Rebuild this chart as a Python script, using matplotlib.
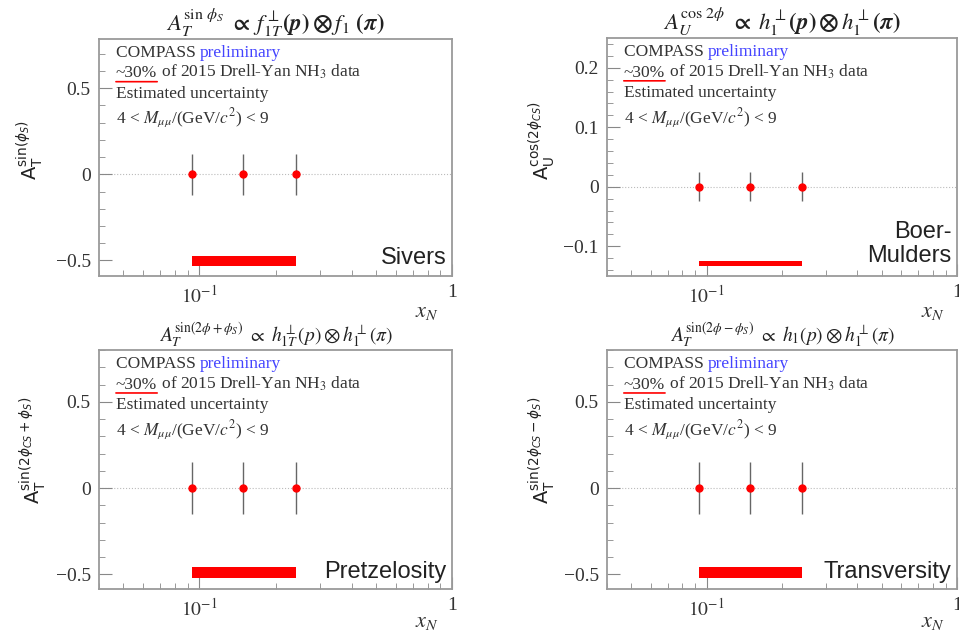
import numpy as np
import matplotlib
matplotlib.use("Agg")
import matplotlib.pyplot as plt
from matplotlib.ticker import FixedLocator, MultipleLocator, LogLocator, NullFormatter, FuncFormatter

plt.rcParams["font.family"] = ["Liberation Serif", "DejaVu Serif"]
plt.rcParams["mathtext.fontset"] = "stix"

# data
x_bins = [0.093, 0.149, 0.241]
amp_sivers = [0.0, 0.0, 0.0]
amp_boer = [0.0, 0.0, 0.0]
amp_pretz = [0.0, 0.0, 0.0]
amp_transv = [0.0, 0.0, 0.0]
err_sivers = [0.12, 0.12, 0.12]
err_boer = [0.024, 0.024, 0.024]
err_pretz = [0.15, 0.15, 0.15]
err_transv = [0.15, 0.15, 0.15]
# systematic band (lower, upper)
band_sivers = (-0.53, -0.473)
band_boer = (-0.134, -0.124)
band_pretz = (-0.522, -0.455)
band_transv = (-0.522, -0.457)

titles = [
    r"$\boldsymbol{A_T^{\sin\,\phi_S}\ \propto\ f_{1T}^{\perp}(p)\otimes f_1\ (\pi)}$",
    r"$\boldsymbol{A_U^{\cos\,2\phi}\ \propto\ h_1^{\perp}(p)\otimes h_1^{\perp}(\pi)}$",
    r"$A_T^{\sin(2\phi+\phi_S)}\ \propto\ h_{1T}^{\perp}(p)\otimes h_1^{\perp}(\pi)$",
    r"$A_T^{\sin(2\phi-\phi_S)}\ \propto\ h_1(p)\otimes h_1^{\perp}(\pi)$",
]
ylabels = [
    r"$\mathrm{A}_\mathrm{T}^{\mathrm{sin}(\phi_S)}$",
    r"$\mathrm{A}_\mathrm{U}^{\mathrm{cos}(2\phi_{CS})}$",
    r"$\mathrm{A}_\mathrm{T}^{\mathrm{sin}(2\phi_{CS}+\phi_S)}$",
    r"$\mathrm{A}_\mathrm{T}^{\mathrm{sin}(2\phi_{CS}-\phi_S)}$",
]
names = ["Sivers", "Boer-\nMulders", "Pretzelosity", "Transversity"]
amps = [amp_sivers, amp_boer, amp_pretz, amp_transv]
errs = [err_sivers, err_boer, err_pretz, err_transv]
bands = [band_sivers, band_boer, band_pretz, band_transv]
ylims = [(-0.59, 0.785), (-0.15, 0.25), (-0.585, 0.8), (-0.585, 0.8)]
ymajor = [0.5, 0.1, 0.5, 0.5]
yminor = [0.1, 0.02, 0.1, 0.1]
title_size = [16.5, 16.5, 14, 14]
name_y = [0.076, 0.134, 0.071, 0.071]
ylab_pos = [(-0.153, 0.53), (-0.143, 0.57), (-0.145, 0.58), (-0.143, 0.58)]
xlab_y = [-0.152, -0.152, -0.142, -0.142]

W, H = 959, 636
boxes = [(99, 39, 452, 276), (607, 38, 957, 276), (99, 350, 452, 589), (607, 350, 957, 589)]


def fmt_y(v, pos):
    if abs(v) < 1e-9:
        return "0"
    return ("%g" % v).replace("-", "\u2212")


fig = plt.figure(figsize=(W / 100, H / 100), dpi=100)
fig.patch.set_facecolor("white")

for i, (l, t, r, b) in enumerate(boxes):
    ax = fig.add_axes([l / W, (H - b) / H, (r - l) / W, (b - t) / H])
    ax.set_xscale("log")
    ax.set_xlim(0.04, 1.0)
    ax.set_ylim(*ylims[i])

    ax.axhline(0, color="#bbbbbb", lw=0.8, ls=":", zorder=1)
    ax.fill_between([x_bins[0], x_bins[-1]], bands[i][0], bands[i][1],
                    color="red", lw=0, zorder=2)
    ax.errorbar(x_bins, amps[i], yerr=errs[i], fmt="o", color="red",
                ms=5, ecolor="#666666", elinewidth=1, capsize=0, zorder=3)

    for s in ax.spines.values():
        s.set_color("#9a9a9a")
        s.set_linewidth(1.3)
    ax.xaxis.set_major_locator(FixedLocator([0.1, 1.0]))
    ax.set_xticklabels([r"$10^{-1}$", "1"])
    ax.xaxis.set_minor_locator(LogLocator(base=10, subs=np.arange(2, 10), numticks=10))
    ax.xaxis.set_minor_formatter(NullFormatter())
    ax.yaxis.set_major_locator(MultipleLocator(ymajor[i]))
    ax.yaxis.set_minor_locator(MultipleLocator(yminor[i]))
    ax.yaxis.set_major_formatter(FuncFormatter(fmt_y))
    ax.tick_params(which="both", direction="in", color="#888888", labelcolor="#333333",
                   labelsize=14, top=False, right=False)
    ax.tick_params(which="major", length=9, pad=6)
    ax.tick_params(which="minor", length=4)

    ax.set_title(titles[i], fontsize=title_size[i], pad=5 if i < 2 else 3, color="#222222")
    xl = ax.set_xlabel(r"$x_N$", fontsize=16, color="#333333")
    xl.set_verticalalignment("center")
    ax.xaxis.set_label_coords(0.93, xlab_y[i])
    yl = ax.set_ylabel(ylabels[i], fontsize=14, color="#222222")
    yl.set_math_fontfamily("dejavusans")
    ax.yaxis.set_label_coords(*ylab_pos[i])

    # info text
    tx = 0.048
    fs = 12.5
    t1 = ax.text(tx, 0.943, "COMPASS ", transform=ax.transAxes, fontsize=fs,
                 color="#333333", va="center")
    ax.annotate("preliminary", xy=(1, 0), xycoords=t1, va="bottom", fontsize=fs,
                color="#4444ff")
    t2 = ax.text(tx, 0.855, "~30%", transform=ax.transAxes, fontsize=fs,
                 color="#333333", va="center")
    ax.annotate(r" of 2015 Drell-Yan NH$_3$ data", xy=(1, 0), xycoords=t2,
                va="bottom", fontsize=fs, color="#333333")
    ax.annotate("", xy=(1, -0.02), xycoords=t2, xytext=(0, -0.02), textcoords=t2,
                arrowprops=dict(arrowstyle="-", color="red", lw=1.2, shrinkA=0, shrinkB=0))
    ax.text(tx, 0.768, "Estimated uncertainty", transform=ax.transAxes, fontsize=fs,
            color="#333333", va="center")
    ax.text(tx, 0.665, r"4 < $M_{\mu\mu}$/(GeV/$c^2$) < 9", transform=ax.transAxes,
            fontsize=fs, color="#333333", va="center")

    ax.text(0.985, name_y[i], names[i], transform=ax.transAxes, ha="right", va="center",
            fontsize=17, family=["Liberation Sans", "DejaVu Sans"], color="#222222",
            linespacing=1.15)

fig.savefig("out.png", dpi=100, facecolor="white")
